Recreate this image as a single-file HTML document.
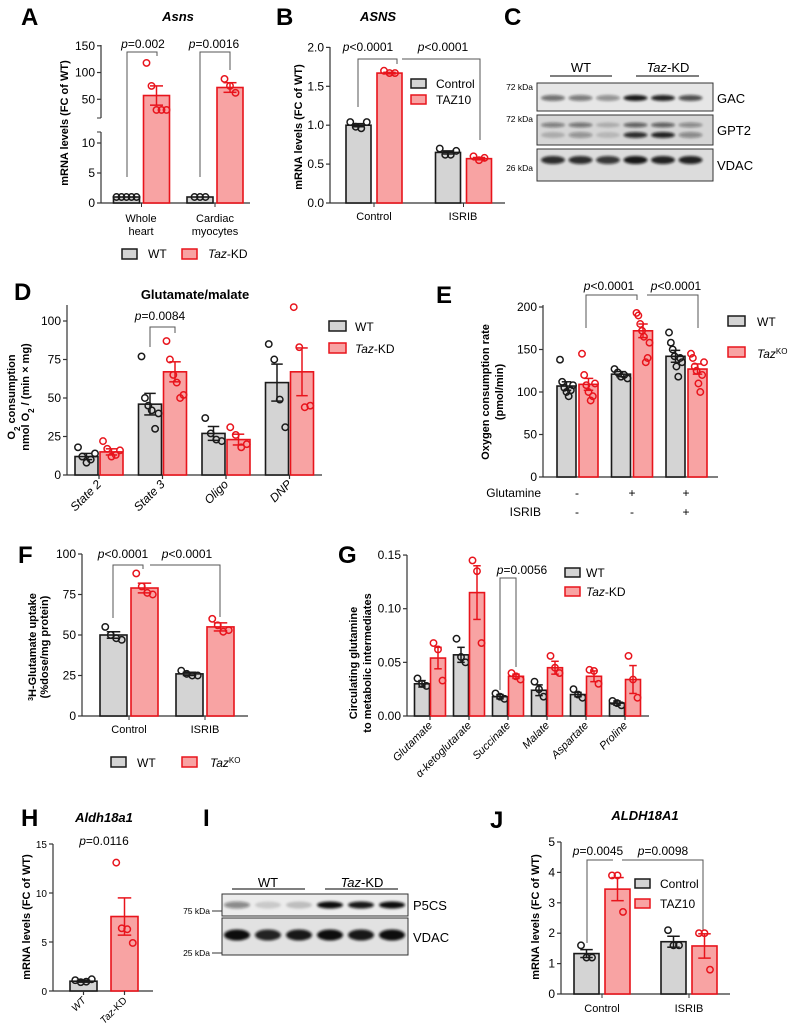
<!DOCTYPE html>
<html><head><meta charset="utf-8"><style>
html,body{margin:0;padding:0;background:#fff;}
svg{display:block;font-family:"Liberation Sans",Arial,sans-serif;}
</style></head><body>
<svg id="fig" width="796" height="1032" viewBox="0 0 796 1032" xmlns="http://www.w3.org/2000/svg">
<defs><filter id="bl" x="-20%" y="-50%" width="140%" height="200%"><feGaussianBlur stdDeviation="1.2"/></filter></defs>
<g font-weight="bold" font-size="24" fill="#000">
<text x="21" y="25">A</text>
<text x="276" y="25">B</text>
<text x="504" y="25">C</text>
<text x="14" y="300">D</text>
<text x="436" y="303">E</text>
<text x="18" y="563">F</text>
<text x="338" y="563">G</text>
<text x="21" y="826">H</text>
<text x="203" y="826">I</text>
<text x="490" y="828">J</text>
</g>
<g font-weight="bold" font-style="italic" font-size="13" text-anchor="middle">
<text x="178" y="21">Asns</text>
<text x="378" y="21">ASNS</text>
<text x="104" y="822">Aldh18a1</text>
<text x="645" y="820">ALDH18A1</text>
</g>
<text x="195" y="299" font-weight="bold" font-size="13" text-anchor="middle">Glutamate/malate</text>

<g font-weight="bold" font-size="11" text-anchor="middle" fill="#000">
<text transform="translate(68,123) rotate(-90)">mRNA levels  (FC of WT)</text>
<text transform="translate(302,127) rotate(-90)">mRNA levels (FC of WT)</text>
<text transform="translate(15,397) rotate(-90)">O<tspan baseline-shift="sub" font-size="8">2</tspan> consumption</text>
<text transform="translate(29,397) rotate(-90)">nmol O<tspan baseline-shift="sub" font-size="8">2</tspan> / (min × mg)</text>
<text transform="translate(489,392) rotate(-90)">Oxygen consumption rate</text>
<text transform="translate(503,392) rotate(-90)">(pmol/min)</text>
<text transform="translate(36,647) rotate(-90)"><tspan baseline-shift="super" font-size="7">3</tspan>H-Glutamate uptake</text>
<text transform="translate(48,647) rotate(-90)">(%dose/mg protein)</text>
<text transform="translate(357,663) rotate(-90)">Circulating glutamine</text>
<text transform="translate(371,663) rotate(-90)">to metabolic intermediates</text>
<text transform="translate(30,917) rotate(-90)">mRNA levels (FC of WT)</text>
<text transform="translate(539,917) rotate(-90)">mRNA levels (FC of WT)</text>
</g>

<g font-size="12">
<rect x="122" y="249" width="15" height="10" fill="#d4d4d4" stroke="#1a1a1a" stroke-width="1.5"/>
<text x="148" y="258">WT</text>
<rect x="182" y="249" width="15" height="10" fill="#f8a3a3" stroke="#e8141c" stroke-width="1.5"/>
<text x="208" y="258"><tspan font-style="italic">Taz</tspan>-KD</text>

<rect x="411" y="79" width="15" height="9" fill="#d4d4d4" stroke="#1a1a1a" stroke-width="1.5"/>
<text x="436" y="88">Control</text>
<rect x="411" y="95" width="15" height="9" fill="#f8a3a3" stroke="#e8141c" stroke-width="1.5"/>
<text x="436" y="104">TAZ10</text>

<rect x="329" y="321" width="17" height="10" fill="#d4d4d4" stroke="#1a1a1a" stroke-width="1.5"/>
<text x="355" y="331">WT</text>
<rect x="329" y="343" width="17" height="10" fill="#f8a3a3" stroke="#e8141c" stroke-width="1.5"/>
<text x="355" y="353"><tspan font-style="italic">Taz</tspan>-KD</text>

<rect x="728" y="316" width="17" height="10" fill="#d4d4d4" stroke="#1a1a1a" stroke-width="1.5"/>
<text x="757" y="326">WT</text>
<rect x="728" y="347" width="17" height="10" fill="#f8a3a3" stroke="#e8141c" stroke-width="1.5"/>
<text x="757" y="358"><tspan font-style="italic">Taz</tspan><tspan baseline-shift="super" font-size="8">KO</tspan></text>

<rect x="111" y="757" width="15" height="10" fill="#d4d4d4" stroke="#1a1a1a" stroke-width="1.5"/>
<text x="137" y="767">WT</text>
<rect x="182" y="757" width="15" height="10" fill="#f8a3a3" stroke="#e8141c" stroke-width="1.5"/>
<text x="210" y="767"><tspan font-style="italic">Taz</tspan><tspan baseline-shift="super" font-size="8">KO</tspan></text>

<rect x="565" y="568" width="15" height="9" fill="#d4d4d4" stroke="#1a1a1a" stroke-width="1.5"/>
<text x="586" y="577">WT</text>
<rect x="565" y="587" width="15" height="9" fill="#f8a3a3" stroke="#e8141c" stroke-width="1.5"/>
<text x="586" y="596"><tspan font-style="italic">Taz</tspan>-KD</text>

<rect x="635" y="879" width="15" height="9" fill="#d4d4d4" stroke="#1a1a1a" stroke-width="1.5"/>
<text x="660" y="888">Control</text>
<rect x="635" y="899" width="15" height="9" fill="#f8a3a3" stroke="#e8141c" stroke-width="1.5"/>
<text x="660" y="908">TAZ10</text>
</g>

<g font-size="11" text-anchor="middle">
<text x="141" y="222">Whole</text>
<text x="141" y="235">heart</text>
<text x="215" y="222">Cardiac</text>
<text x="215" y="235">myocytes</text>
<text x="374" y="220">Control</text>
<text x="463" y="220">ISRIB</text>
<text x="129" y="733">Control</text>
<text x="205" y="733">ISRIB</text>
<text x="602" y="1012">Control</text>
<text x="689" y="1012">ISRIB</text>
</g>
<g font-size="12">
<text x="541" y="497" text-anchor="end">Glutamine</text>
<text x="541" y="516" text-anchor="end">ISRIB</text>
<g text-anchor="middle">
<text x="577" y="497">-</text>
<text x="632" y="497">+</text>
<text x="686" y="497">+</text>
<text x="577" y="516">-</text>
<text x="632" y="516">-</text>
<text x="686" y="516">+</text>
</g></g>

<g font-size="12" text-anchor="middle">
<text x="143" y="48"><tspan font-style="italic">p</tspan>=0.002</text>
<text x="214" y="48"><tspan font-style="italic">p</tspan>=0.0016</text>
<text x="368" y="51"><tspan font-style="italic">p</tspan>&lt;0.0001</text>
<text x="443" y="51"><tspan font-style="italic">p</tspan>&lt;0.0001</text>
<text x="160" y="320"><tspan font-style="italic">p</tspan>=0.0084</text>
<text x="609" y="290"><tspan font-style="italic">p</tspan>&lt;0.0001</text>
<text x="676" y="290"><tspan font-style="italic">p</tspan>&lt;0.0001</text>
<text x="123" y="558"><tspan font-style="italic">p</tspan>&lt;0.0001</text>
<text x="187" y="558"><tspan font-style="italic">p</tspan>&lt;0.0001</text>
<text x="522" y="574"><tspan font-style="italic">p</tspan>=0.0056</text>
<text x="104" y="845"><tspan font-style="italic">p</tspan>=0.0116</text>
<text x="598" y="855"><tspan font-style="italic">p</tspan>=0.0045</text>
<text x="663" y="855"><tspan font-style="italic">p</tspan>=0.0098</text>
</g>
<g fill="none" stroke="#555" stroke-width="1">
<polyline points="127,177 127,52 157,52 157,56"/>
<polyline points="200,177 200,52 230,52 230,70"/>
<polyline points="358,107 358,59 397,59 397,64"/>
<polyline points="402,59 480,59 480,140"/>
<polyline points="150,347 150,327 175,327 175,333"/>
<polyline points="586,328 586,295 637,295 637,300"/>
<polyline points="647,295 698,295 698,328"/>
<polyline points="113,618 113,565 143,565 143,569"/>
<polyline points="150,565 220,565 220,617"/>
<polyline points="500,690 500,578 516,578 516,667"/>
<polyline points="587,943 587,860 613,860"/>
<polyline points="622,860 703,860 703,931"/>
</g>

<g>
<text x="581" y="72" font-size="13" text-anchor="middle">WT</text>
<line x1="550" y1="76" x2="612" y2="76" stroke="#333" stroke-width="1.2"/>
<text x="668" y="72" font-size="13" text-anchor="middle"><tspan font-style="italic">Taz</tspan>-KD</text>
<line x1="636" y1="76" x2="699" y2="76" stroke="#333" stroke-width="1.2"/>
<rect x="537" y="83" width="176" height="28" fill="#e6e6e6" stroke="#333"/>
<rect x="537" y="115" width="176" height="30" fill="#d6d6d6" stroke="#333"/>
<rect x="537" y="149" width="176" height="32" fill="#dcdcdc" stroke="#333"/>
<g id="cbands" filter="url(#bl)"></g>
<g font-size="8.5" text-anchor="end">
<text x="533" y="90">72 kDa</text>
<text x="533" y="122">72 kDa</text>
<text x="533" y="171">26 kDa</text>
</g>
<g font-size="13">
<text x="717" y="103">GAC</text>
<text x="717" y="135">GPT2</text>
<text x="717" y="170">VDAC</text>
</g>
</g>
<g>
<text x="268" y="887" font-size="13" text-anchor="middle">WT</text>
<line x1="232" y1="889" x2="305" y2="889" stroke="#333" stroke-width="1.2"/>
<text x="362" y="887" font-size="13" text-anchor="middle"><tspan font-style="italic">Taz</tspan>-KD</text>
<line x1="325" y1="889" x2="398" y2="889" stroke="#333" stroke-width="1.2"/>
<rect x="222" y="894" width="186" height="22" fill="#ececec" stroke="#333"/>
<rect x="222" y="918" width="186" height="37" fill="#e2e2e2" stroke="#333"/>
<g id="ibands" filter="url(#bl)"></g>
<g font-size="8.5" text-anchor="end">
<text x="210" y="914">75 kDa</text>
<text x="210" y="956">25 kDa</text>
</g>
<line x1="212" y1="911" x2="222" y2="911" stroke="#333"/>
<line x1="212" y1="953" x2="222" y2="953" stroke="#333"/>
<g font-size="13">
<text x="413" y="910">P5CS</text>
<text x="413" y="942">VDAC</text>
</g>
</g>
<g id="charts"></g>
</svg>
<script>
const A_groups=['Whole heart','Cardiac myocytes'];
const A_wt_mean=[1,1], A_wt_sem=[0,0], A_kd_mean=[57,72], A_kd_sem=[18,9];
const A_wt_pts=[[1,1,1,1,1],[1,1,1]], A_kd_pts=[[118,75,30,30,30],[88,75,62]];
const A_ticks=[0,5,10,50,100,150];

const B_groups=['Control','ISRIB'];
const B_wt_mean=[1.0,0.65], B_wt_sem=[0.02,0.02], B_kd_mean=[1.67,0.57], B_kd_sem=[0.01,0.015];
const B_wt_pts=[[1.04,0.98,0.96,1.04],[0.7,0.62,0.62,0.67]], B_kd_pts=[[1.7,1.67,1.67],[0.6,0.55,0.58]];
const B_ticks=[0,0.5,1.0,1.5,2.0];

const D_groups=['State 2','State 3','Oligo','DNP'];
const D_wt_mean=[12,46,27,60], D_wt_sem=[2,7,4.5,12], D_kd_mean=[15,67,23,67], D_kd_sem=[2,6.5,3.5,15.5];
const D_wt_pts=[[18,12,8,10,14],[77,50,45,42,30,40],[37,27,23,22],[85,75,49,31]];
const D_kd_pts=[[22,17,12,13,16],[87,75,65,60,50,52],[31,26,18,20],[109,83,44,45]];
const D_ticks=[0,25,50,75,100];

const E_wt_mean=[107,121,142], E_wt_sem=[5,3,7], E_kd_mean=[109,172,127], E_kd_sem=[7,8,6];
const E_wt_pts=[[138,112,105,100,95,102,108],[127,123,118,120,116],[170,158,150,142,130,118,140,135]];
const E_kd_pts=[[145,120,108,100,90,95,110],[193,190,180,172,165,135,140,158],[145,140,130,125,110,100,120,135]];
const E_ticks=[0,50,100,150,200];

const F_wt_mean=[50,26], F_wt_sem=[2,1], F_kd_mean=[79,55], F_kd_sem=[3,2.5];
const F_wt_pts=[[55,50,48,47],[28,26,25,25]], F_kd_pts=[[88,80,76,75],[60,56,52,53]];
const F_ticks=[0,25,50,75,100];

const G_groups=['Glutamate','α-ketoglutarate','Succinate','Malate','Aspartate','Proline'];
const G_wt_mean=[0.030,0.057,0.018,0.024,0.020,0.012], G_wt_sem=[0.003,0.007,0.002,0.005,0.002,0.002];
const G_kd_mean=[0.054,0.115,0.037,0.045,0.037,0.034], G_kd_sem=[0.01,0.025,0.002,0.006,0.005,0.013];
const G_wt_pts=[[0.035,0.030,0.028],[0.072,0.055,0.050],[0.021,0.018,0.016],[0.032,0.025,0.018],[0.025,0.020,0.017],[0.014,0.012,0.010]];
const G_kd_pts=[[0.068,0.062,0.033],[0.145,0.135,0.068],[0.040,0.037,0.034],[0.056,0.045,0.040],[0.043,0.042,0.030],[0.056,0.034,0.017]];
const G_ticks=[0,0.05,0.10,0.15];

const H_groups=['WT','Taz-KD'];
const H_mean=[1.0,7.6], H_sem=[0.1,1.9];
const H_pts=[[1.1,0.9,0.95,1.2],[13.1,6.4,6.3,4.9]];
const H_ticks=[0,5,10,15];

const J_wt_mean=[1.33,1.72], J_wt_sem=[0.13,0.18], J_kd_mean=[3.45,1.58], J_kd_sem=[0.38,0.4];
const J_wt_pts=[[1.6,1.2,1.2],[2.1,1.6,1.6]], J_kd_pts=[[3.9,3.9,2.7],[2.0,2.0,0.8]];
const J_ticks=[0,1,2,3,4,5];

const C_gac=[0.55,0.5,0.4,0.95,0.9,0.7], C_gpt2a=[0.45,0.5,0.2,0.6,0.6,0.4], C_gpt2b=[0.2,0.35,0.15,0.85,0.9,0.4], C_vdac=[0.85,0.85,0.8,0.95,0.9,0.9];
const I_p5cs=[0.45,0.15,0.2,1,0.95,1], I_vdac=[1,0.9,0.95,1,0.95,1];

const NS='http://www.w3.org/2000/svg';
const root=document.getElementById('charts');
const GF='#d4d4d4',GS='#1a1a1a',RF='#f8a3a3',RS='#e8141c';
function mk(tag,attrs,name,parent){
  const e=document.createElementNS(NS,tag);
  for(const k in attrs) e.setAttribute(k,attrs[k]);
  
  
  (parent||root).appendChild(e);
  return e;
}
function txt(x,y,s,attrs,name){const e=mk('text',Object.assign({x:x,y:y,'font-size':11},attrs||{}),name);e.textContent=s;return e;}
function yAxis(x,yTop,yBot,ticks,yf,fmt,name,fs){
  mk('line',{x1:x,y1:yTop,x2:x,y2:yBot,stroke:'#333','stroke-width':1.2},name+'-line');
  ticks.forEach(v=>{const y=yf(v);
    mk('line',{x1:x-4,y1:y,x2:x,y2:y,stroke:'#333','stroke-width':1.2},name+'-tick');
    txt(x-6,y+4,fmt(v),{'text-anchor':'end','font-size':fs||12},name+'-label');});
}
function xAxis(x0,x1,y,name){mk('line',{x1:x0,y1:y,x2:x1,y2:y,stroke:'#333','stroke-width':1.2},name);}
function bar(cx,w,yf,mean,sem,pts,red,name){
  const y0=yf(0),ym=yf(mean);
  mk('rect',{x:cx-w/2,y:ym,width:w,height:Math.max(0,y0-ym),fill:red?RF:GF,stroke:red?RS:GS,'stroke-width':1.6},name);
  const col=red?RS:GS;
  if(sem>0){const cw=w*0.25;
    mk('line',{x1:cx,y1:yf(mean-sem),x2:cx,y2:yf(mean+sem),stroke:col,'stroke-width':1.5},name+'-error');
    mk('line',{x1:cx-cw,y1:yf(mean+sem),x2:cx+cw,y2:yf(mean+sem),stroke:col,'stroke-width':1.5},name+'-error-cap');
    mk('line',{x1:cx-cw,y1:yf(mean-sem),x2:cx+cw,y2:yf(mean-sem),stroke:col,'stroke-width':1.5},name+'-error-cap');}
  const n=pts.length,sp=Math.min(5.5,(w-6)/Math.max(1,n-1));
  pts.forEach((v,i)=>{mk('circle',{cx:cx+(i-(n-1)/2)*sp,cy:yf(v),r:3.2,fill:'none',stroke:col,'stroke-width':1.5},name+'-point');});
}
function rotLabels(labels,xf,y,name,fs){labels.forEach((s,i)=>{const x=xf(i);
  mk('line',{x1:x,y1:y-8,x2:x,y2:y-4,stroke:'#333','stroke-width':1.2},name+'-tick');
  const t=txt(0,0,'',{'text-anchor':'end','font-style':'italic','font-size':fs||11,transform:`translate(${x+3},${y+2}) rotate(-45)`},name);
  if(s==='Taz-KD'){t.innerHTML='<tspan font-style="italic">Taz</tspan><tspan font-style="normal">-KD</tspan>';} else t.textContent=s;});}

const yA=v=>v<=13?203-6*v:118-(v-15)*0.535;
mk('line',{x1:101,y1:45,x2:101,y2:118,stroke:'#333','stroke-width':1.2},'a-y-axis-upper');
mk('line',{x1:101,y1:132,x2:101,y2:203,stroke:'#333','stroke-width':1.2},'a-y-axis-lower');
A_ticks.forEach(v=>{const y=yA(v);mk('line',{x1:97,y1:y,x2:101,y2:y,stroke:'#333','stroke-width':1.2},'a-y-tick');txt(95,y+4,String(v),{'text-anchor':'end','font-size':12},'a-y-tick-label');});
mk('line',{x1:97,y1:118,x2:101,y2:118,stroke:'#333'},'a-break');mk('line',{x1:97,y1:132,x2:101,y2:132,stroke:'#333'},'a-break');
xAxis(101,250,203,'a-x-axis');
const xA=i=>141.5+73.5*i;
A_groups.forEach((g,i)=>{mk('line',{x1:xA(i),y1:203,x2:xA(i),y2:207,stroke:'#333'},'a-x-tick');
  bar(xA(i)-15,26,yA,A_wt_mean[i],A_wt_sem[i],A_wt_pts[i],false,'a-bar-wt-'+i);
  bar(xA(i)+15,26,yA,A_kd_mean[i],A_kd_sem[i],A_kd_pts[i],true,'a-bar-kd-'+i);});

const yB=v=>203-v*77.8;
yAxis(330,47,203,B_ticks,yB,v=>v.toFixed(1),'b-y-axis');
xAxis(330,505,203,'b-x-axis');
const xB=i=>374+89.5*i;
B_groups.forEach((g,i)=>{mk('line',{x1:xB(i),y1:203,x2:xB(i),y2:207,stroke:'#333'},'b-x-tick');
  bar(xB(i)-15.5,25,yB,B_wt_mean[i],B_wt_sem[i],B_wt_pts[i],false,'b-bar-control-'+i);
  bar(xB(i)+15.5,25,yB,B_kd_mean[i],B_kd_sem[i],B_kd_pts[i],true,'b-bar-taz10-'+i);});

const yD=v=>475-v*1.54;
yAxis(67,305,475,D_ticks,yD,v=>String(v),'d-y-axis');
xAxis(67,322,475,'d-x-axis');
const xD=i=>99+63.5*i;
D_groups.forEach((g,i)=>{bar(xD(i)-12.5,23,yD,D_wt_mean[i],D_wt_sem[i],D_wt_pts[i],false,'d-bar-wt-'+i);
  bar(xD(i)+12.5,23,yD,D_kd_mean[i],D_kd_sem[i],D_kd_pts[i],true,'d-bar-kd-'+i);});
rotLabels(D_groups,xD,483,'d-x-label',12);

const yE=v=>477-v*0.85;
yAxis(543,305,477,E_ticks,yE,v=>String(v),'e-y-axis');
xAxis(543,718,477,'e-x-axis');
const xE=i=>577.5+54.5*i;
E_wt_mean.forEach((m,i)=>{bar(xE(i)-11,19,yE,E_wt_mean[i],E_wt_sem[i],E_wt_pts[i],false,'e-bar-wt-'+i);
  bar(xE(i)+11,19,yE,E_kd_mean[i],E_kd_sem[i],E_kd_pts[i],true,'e-bar-ko-'+i);});

const yF=v=>716-v*1.62;
yAxis(82,554,716,F_ticks,yF,v=>String(v),'f-y-axis');
xAxis(82,248,716,'f-x-axis');
const xF=i=>129+76*i;
F_wt_mean.forEach((m,i)=>{mk('line',{x1:xF(i),y1:716,x2:xF(i),y2:720,stroke:'#333'},'f-x-tick');
  bar(xF(i)-15.5,27,yF,F_wt_mean[i],F_wt_sem[i],F_wt_pts[i],false,'f-bar-wt-'+i);
  bar(xF(i)+15.5,27,yF,F_kd_mean[i],F_kd_sem[i],F_kd_pts[i],true,'f-bar-ko-'+i);});

const yG=v=>716-v*1073;
yAxis(407,555,716,G_ticks,yG,v=>v.toFixed(2),'g-y-axis');
xAxis(407,649,716,'g-x-axis');
const xG=i=>430+39*i;
G_groups.forEach((g,i)=>{bar(xG(i)-8,15,yG,G_wt_mean[i],G_wt_sem[i],G_wt_pts[i],false,'g-bar-wt-'+i);
  bar(xG(i)+8,15,yG,G_kd_mean[i],G_kd_sem[i],G_kd_pts[i],true,'g-bar-kd-'+i);});
rotLabels(G_groups,xG,724,'g-x-label',11);

const yH=v=>991-v*9.8;
yAxis(53,844,991,H_ticks,yH,v=>String(v),'h-y-axis',10);
xAxis(53,153,991,'h-x-axis');
const xH=i=>83.5+41*i;
H_groups.forEach((g,i)=>{bar(xH(i),27,yH,H_mean[i],H_sem[i],H_pts[i],i===1,'h-bar-'+i);});
rotLabels(H_groups,xH,999,'h-x-label',10);

const yJ=v=>994-v*30.4;
yAxis(561,842,994,J_ticks,yJ,v=>String(v),'j-y-axis');
xAxis(561,730,994,'j-x-axis');
const xJ=i=>602+87*i;
J_wt_mean.forEach((m,i)=>{mk('line',{x1:xJ(i),y1:994,x2:xJ(i),y2:998,stroke:'#333'},'j-x-tick');
  bar(xJ(i)-15.5,25,yJ,J_wt_mean[i],J_wt_sem[i],J_wt_pts[i],false,'j-bar-control-'+i);
  bar(xJ(i)+15.5,25,yJ,J_kd_mean[i],J_kd_sem[i],J_kd_pts[i],true,'j-bar-taz10-'+i);});

const cb=document.getElementById('cbands'), ib=document.getElementById('ibands');
const cLane=i=>553+27.5*i, iLane=i=>237+31*i;
function band(p,x,y,w,h,a,name){mk('ellipse',{cx:x,cy:y,rx:w,ry:h,fill:'#111','fill-opacity':a},name,p);}
C_gac.forEach((a,i)=>band(cb,cLane(i),98,12,3,a,'c-gac-band'));
C_gpt2a.forEach((a,i)=>band(cb,cLane(i),125,12,2.5,a,'c-gpt2-band-upper'));
C_gpt2b.forEach((a,i)=>band(cb,cLane(i),135,12,3,a,'c-gpt2-band-lower'));
C_vdac.forEach((a,i)=>band(cb,cLane(i),160,12,4,a,'c-vdac-band'));
I_p5cs.forEach((a,i)=>band(ib,iLane(i),905,13,3.5,a,'i-p5cs-band'));
I_vdac.forEach((a,i)=>band(ib,iLane(i),935,13,5.5,a,'i-vdac-band'));
</script>
</body></html>
